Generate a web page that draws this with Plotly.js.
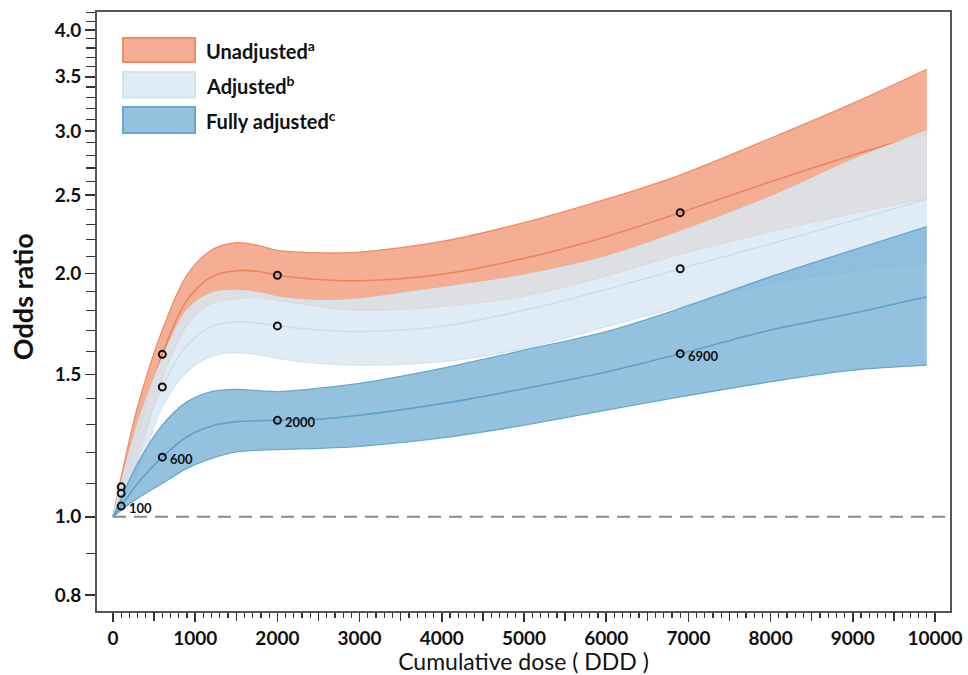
<!DOCTYPE html>
<html>
<head>
<meta charset="utf-8">
<script src="https://cdn.plot.ly/plotly-3.0.1.min.js"></script>
<style>
  html, body { margin: 0; padding: 0; background: #fff; }
  #chart { width: 968px; height: 675px; }
</style>
</head>
<body>
<div id="chart"></div>
<script>
// ---- data ----
const doses = [0, 100, 300, 600, 900, 1200, 1500, 1800, 2000, 2500, 3000, 4000, 5000, 6000, 6900, 8000, 9000, 9900];

const unadjMid   = [1.0, 1.089, 1.268, 1.588, 1.853, 1.981, 2.015, 2.009, 1.989, 1.965, 1.958, 1.995, 2.087, 2.22, 2.377, 2.596, 2.80, 2.98];
const unadjUpper = [1.0, 1.12, 1.368, 1.702, 1.99, 2.137, 2.182, 2.161, 2.135, 2.12, 2.125, 2.19, 2.31, 2.47, 2.646, 2.938, 3.245, 3.576];
const unadjLower = [1.0, 1.059, 1.175, 1.482, 1.725, 1.836, 1.861, 1.866, 1.853, 1.82, 1.80, 1.82, 1.875, 1.985, 2.113, 2.252, 2.373, 2.476];

const adjMid   = [1.0, 1.069, 1.22, 1.447, 1.631, 1.718, 1.742, 1.734, 1.722, 1.702, 1.694, 1.72, 1.80, 1.91, 2.026, 2.175, 2.325, 2.47];
const adjUpper = [1.0, 1.10, 1.30, 1.57, 1.80, 1.89, 1.905, 1.89, 1.87, 1.85, 1.86, 1.92, 1.99, 2.097, 2.252, 2.487, 2.762, 3.0];
const adjLower = [1.0, 1.044, 1.131, 1.368, 1.511, 1.58, 1.596, 1.585, 1.57, 1.548, 1.54, 1.555, 1.615, 1.718, 1.819, 1.944, 2.009, 2.058];

const fullMid   = [1.0, 1.031, 1.10, 1.185, 1.256, 1.295, 1.311, 1.315, 1.316, 1.32, 1.335, 1.38, 1.44, 1.51, 1.591, 1.702, 1.785, 1.871];
const fullUpper = [1.0, 1.054, 1.164, 1.298, 1.387, 1.428, 1.437, 1.431, 1.428, 1.442, 1.462, 1.526, 1.607, 1.694, 1.81, 1.981, 2.137, 2.284];
const fullLower = [1.0, 1.019, 1.054, 1.10, 1.148, 1.181, 1.203, 1.209, 1.211, 1.215, 1.222, 1.252, 1.298, 1.355, 1.407, 1.469, 1.518, 1.54];

const ptDoses  = [100, 600, 2000, 6900];
const ptLabels = ['100', '600', '2000', '6900'];
const unadjPts = [1.089, 1.588, 1.989, 2.377];
const adjPts   = [1.069, 1.447, 1.722, 2.026];
const fullPts  = [1.031, 1.185, 1.316, 1.591];

const refOR = 1.0;

const seriesNames = ['Unadjusted', 'Adjusted', 'Fully adjusted'];
const seriesSup   = ['a', 'b', 'c'];

const xTickVals = [0, 1000, 2000, 3000, 4000, 5000, 6000, 7000, 8000, 9000, 10000];
const xTickText = ['0', '1000', '2000', '3000', '4000', '5000', '6000', '7000', '8000', '9000', '10000'];
const xHalfTicks = [500, 1500, 2500, 3500, 4500, 5500, 6500, 7500, 8500, 9500];
const yTickVals = [0.8, 1.0, 1.5, 2.0, 2.5, 3.0, 3.5, 4.0];
const yTickText = ['0.8', '1.0', '1.5', '2.0', '2.5', '3.0', '3.5', '4.0'];
const xTitle = 'Cumulative dose ( DDD )';
const yTitle = 'Odds ratio';

// ---- styling ----
const FONT = 'Lato, "Open Sans", "DejaVu Sans", sans-serif';
const xRange = [-194.6, 10182];
const yRange = [Math.log10(0.7647), Math.log10(4.209)];

const styles = [
  { fill: 'rgb(244,174,147)', edge: 'rgb(239,140,104)', mid: 'rgb(238,132,94)' },
  { fill: 'rgba(217,232,243,0.835)', edge: 'rgb(210,227,240)', mid: 'rgb(203,222,238)' },
  { fill: 'rgba(121,179,214,0.8)', edge: 'rgb(104,166,206)', mid: 'rgb(96,160,202)' }
];
const bands = [
  [unadjLower, unadjUpper, unadjMid],
  [adjLower, adjUpper, adjMid],
  [fullLower, fullUpper, fullMid]
];

const traces = [];
// reference line at OR = 1 (on the overlay x axis that carries the half-thousand ticks)
traces.push({
  x: [0, xRange[1]], y: [refOR, refOR], mode: 'lines', hoverinfo: 'skip', xaxis: 'x2',
  line: { color: '#8a8a8a', width: 2, dash: '13px,8px' }
});

bands.forEach((b, i) => {
  const s = styles[i];
  traces.push({ x: doses, y: b[0], mode: 'lines', line: { color: s.edge, width: 1.3, shape: 'spline', smoothing: 0.9 }, hoverinfo: 'skip' });
  traces.push({ x: doses, y: b[1], mode: 'lines', fill: 'tonexty', fillcolor: s.fill, line: { color: s.edge, width: 1.3, shape: 'spline', smoothing: 0.9 }, hoverinfo: 'skip' });
  traces.push({ x: doses, y: b[2], mode: 'lines', line: { color: s.mid, width: 1.6, shape: 'spline', smoothing: 0.9 }, hoverinfo: 'skip' });
});

[unadjPts, adjPts, fullPts].forEach(p => {
  traces.push({
    x: ptDoses, y: p, mode: 'markers', hoverinfo: 'skip',
    marker: { symbol: 'circle-open', size: 7, color: '#111', line: { width: 2, color: '#111' } }
  });
});

// minor tick values
const xMinor = [];
for (let v = 0; v <= 10000; v += 100) if (v % 500 !== 0) xMinor.push(v);
const yMinor = [];
for (let k = 8; k <= 42; k++) { const v = k / 10; if (!yTickVals.some(t => Math.abs(t - v) < 1e-9)) yMinor.push(v); }

// legend boxes (paper coords) + texts
const legendY = [[0.9165, 0.9566], [0.8573, 0.8998], [0.7980, 0.8414]];
const shapes = [];
const annotations = [];
legendY.forEach((yy, i) => {
  shapes.push({
    type: 'rect', xref: 'paper', yref: 'paper', x0: 0.0305, x1: 0.1149, y0: yy[0], y1: yy[1],
    fillcolor: styles[i].fill, line: { color: styles[i].edge, width: 2 }
  });
  annotations.push({
    xref: 'paper', yref: 'paper', x: 0.1254, y: (yy[0] + yy[1]) / 2, xanchor: 'left', yanchor: 'middle',
    text: seriesNames[i] + '<sup>' + seriesSup[i] + '</sup>', showarrow: false,
    font: { family: FONT, size: 20, color: '#111', weight: 'bold' }
  });
});
ptDoses.forEach((d, i) => {
  annotations.push({
    x: d, y: Math.log10(fullPts[i]), text: ptLabels[i], showarrow: false,
    xanchor: 'left', yanchor: 'middle', xshift: 6, yshift: -2,
    font: { family: FONT, size: 13, color: '#111', weight: 'bold' }
  });
});
// y-axis title placed where the reference has it
annotations.push({
  xref: 'paper', yref: 'paper', x: -0.0879, y: 0.524, xanchor: 'center', yanchor: 'middle',
  text: yTitle, textangle: -90, showarrow: false,
  font: { family: FONT, size: 27, color: '#111', weight: 'bold' }
});

const layout = {
  width: 968, height: 675,
  margin: { l: 97, r: 18, t: 12, b: 64, pad: 0 },
  paper_bgcolor: '#fff', plot_bgcolor: '#fff',
  showlegend: false,
  font: { family: FONT, color: '#111' },
  xaxis: {
    range: xRange, showgrid: false, zeroline: false,
    showline: true, linecolor: '#555', linewidth: 2, mirror: true,
    tickmode: 'array', tickvals: xTickVals, ticktext: xTickText,
    ticks: 'outside', ticklen: 9, tickwidth: 1.5, tickcolor: '#333',
    tickfont: { family: FONT, size: 19, color: '#111', weight: 'bold' },
    minor: { tickmode: 'array', tickvals: xMinor, ticks: 'outside', ticklen: 5, tickwidth: 1.2, tickcolor: '#333', showgrid: false },
    title: { text: xTitle, font: { family: FONT, size: 23, color: '#111' }, standoff: 4 }
  },
  xaxis2: {
    overlaying: 'x', anchor: 'y', side: 'bottom', range: xRange,
    showgrid: false, zeroline: false, showline: false, showticklabels: false,
    tickmode: 'array', tickvals: xHalfTicks,
    ticks: 'outside', ticklen: 9, tickwidth: 1.5, tickcolor: '#333'
  },
  yaxis: {
    type: 'log', range: yRange, showgrid: false, zeroline: false,
    showline: true, linecolor: '#555', linewidth: 2, mirror: true,
    tickmode: 'array', tickvals: yTickVals, ticktext: yTickText,
    ticks: 'outside', ticklen: 10, tickwidth: 1.5, tickcolor: '#333',
    tickfont: { family: FONT, size: 19, color: '#111', weight: 'bold' },
    minor: { tickmode: 'array', tickvals: yMinor, ticks: 'outside', ticklen: 9, tickwidth: 1.2, tickcolor: '#333', showgrid: false }
  },
  shapes: shapes,
  annotations: annotations
};

Plotly.newPlot('chart', traces, layout, { displayModeBar: false, staticPlot: true });
</script>
</body>
</html>
